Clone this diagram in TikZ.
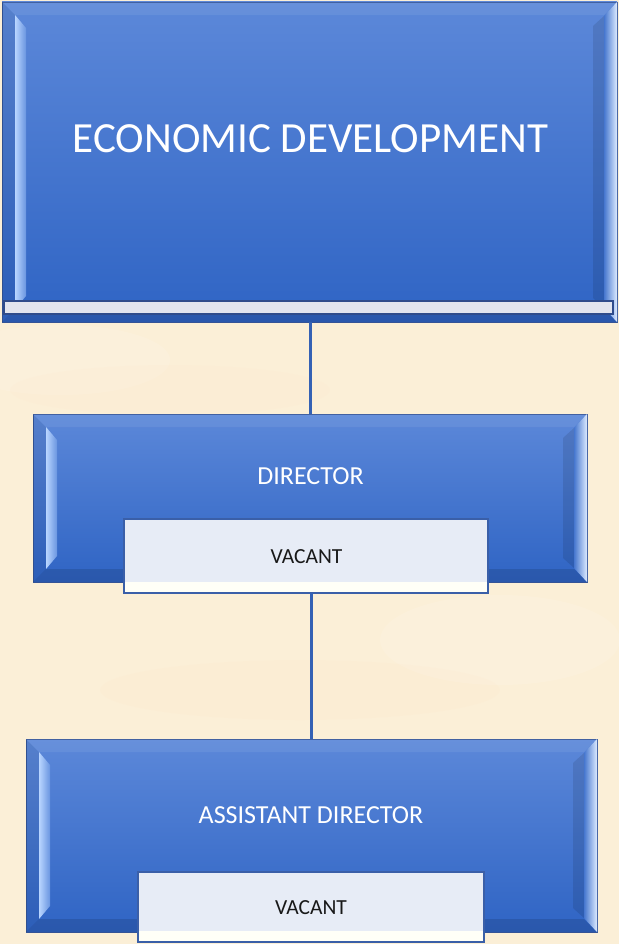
\documentclass[tikz,border=0pt]{standalone}
\usepackage{fontspec}
\setmainfont{Carlito}
\usetikzlibrary{fit,calc}
\definecolor{bgcream}{HTML}{FBEFD7}
\definecolor{faceTop}{HTML}{5C88D9}
\definecolor{faceBot}{HTML}{2F64C4}
\definecolor{boxedge}{HTML}{34559A}
\definecolor{hlA}{HTML}{B8D5FF}
\definecolor{hlB}{HTML}{6A95E0}
\definecolor{hrA}{HTML}{4677CF}
\definecolor{hrB}{HTML}{DDEBFF}
\definecolor{vacfill}{HTML}{E7ECF6}
\definecolor{vacedge}{HTML}{3A5FA8}
\definecolor{connblue}{HTML}{3461B4}
\definecolor{barfill}{HTML}{E2E5EE}
\tikzset{
  bluebox/.style={inner sep=0pt, outer sep=0pt, top color=faceTop, bottom color=faceBot, draw=boxedge, line width=0.8pt},
  vacbox/.style={inner sep=0pt, outer sep=0pt, fill=vacfill, draw=vacedge, line width=1.4pt},
  whitetext/.style={text=white, inner sep=0pt, anchor=base},
  blacktext/.style={text=black!90, inner sep=0pt, anchor=base},
  conn/.style={draw=connblue, line width=3pt},
}
\newcommand{\bevelon}[1]{%
  \fill[black,opacity=0.12] (#1.south west) -- ($(#1.south west)+(13,-13)$) -- ($(#1.south east)+(-13,-13)$) -- (#1.south east) -- cycle;
  \fill[white,opacity=0.07] (#1.north west) -- (#1.north east) -- ($(#1.north east)+(-13,13)$) -- ($(#1.north west)+(13,13)$) -- cycle;
  \fill[black,opacity=0.06] (#1.north west) -- ($(#1.north west)+(13,13)$) -- ($(#1.south west)+(13,-13)$) -- (#1.south west) -- cycle;
  \shade[left color=hlA, right color=hlB] ($(#1.north west)+(13,13)$) -- ($(#1.north west)+(24,26)$) -- ($(#1.south west)+(24,-26)$) -- ($(#1.south west)+(13,-13)$) -- cycle;
  \fill[black,opacity=0.10] ($(#1.north east)+(-13,14)$) -- ($(#1.north east)+(-24,24)$) -- ($(#1.south east)+(-24,-24)$) -- ($(#1.south east)+(-13,-14)$) -- cycle;
  \shade[left color=hrA, right color=hrB] (#1.north east) -- ($(#1.north east)+(-13,14)$) -- ($(#1.south east)+(-13,-14)$) -- (#1.south east) -- cycle;
}
\newcommand{\vacshine}[1]{%
  \fill[white!97!yellow] ($(#1.south west)+(1,-1)$) rectangle ($(#1.south east)+(-1,-11)$);
  \draw[vacedge, line width=1.4pt] (#1.north west) rectangle (#1.south east);
}
\begin{document}
\begin{tikzpicture}[x=1pt,y=-1pt]
  \fill[bgcream] (0,0) rectangle (619,944);
  \useasboundingbox (0,0) rectangle (619,944);
  % faint background texture
  \fill[white,opacity=0.12] (60,360) ellipse (110 and 35);
  \fill[white,opacity=0.10] (500,640) ellipse (120 and 45);
  \fill[orange!30,opacity=0.06] (300,690) ellipse (200 and 30);
  \fill[orange!30,opacity=0.05] (170,390) ellipse (160 and 25);

  % blue boxes
  \node[bluebox, fit={(2,2) (617,322)}] (top) {};
  \node[bluebox, fit={(33,414) (587,582)}] (dir) {};
  \node[bluebox, fit={(26,739) (597,932)}] (asst) {};

  \bevelon{top}
  \bevelon{dir}
  \bevelon{asst}

  % bar at bottom of top box
  \node[inner sep=0pt, fill=barfill, draw=boxedge!90!black, line width=1.6pt, fit={(4,301) (613,314)}] (topbar) {};

  % vacant boxes
  \node[vacbox, fit={(124,519) (488,593)}] (vac1) {};
  \vacshine{vac1}
  \node[vacbox, fit={(138,872) (484,942)}] (vac2) {};
  \vacshine{vac2}

  % connectors
  \draw[conn] (top.south -| dir.north) -- (dir.north);
  \draw[conn] (vac1.south -| asst.north) -- (asst.north);

  % texts
  \node[whitetext, font=\fontsize{43}{43}\selectfont] (t1) at (310.5,153) {ECONOMIC DEVELOPMENT};
  \node[whitetext, font=\fontsize{26}{26}\selectfont] (t2) at (310.5,484) {DIRECTOR};
  \node[blacktext, font=\fontsize{21.5}{21.5}\selectfont] (t3) at (306.5,563) {VACANT};
  \node[whitetext, font=\fontsize{26}{26}\selectfont] (t4) at (311,823) {ASSISTANT DIRECTOR};
  \node[blacktext, font=\fontsize{21.5}{21.5}\selectfont] (t5) at (311,914) {VACANT};
\end{tikzpicture}
\end{document}
